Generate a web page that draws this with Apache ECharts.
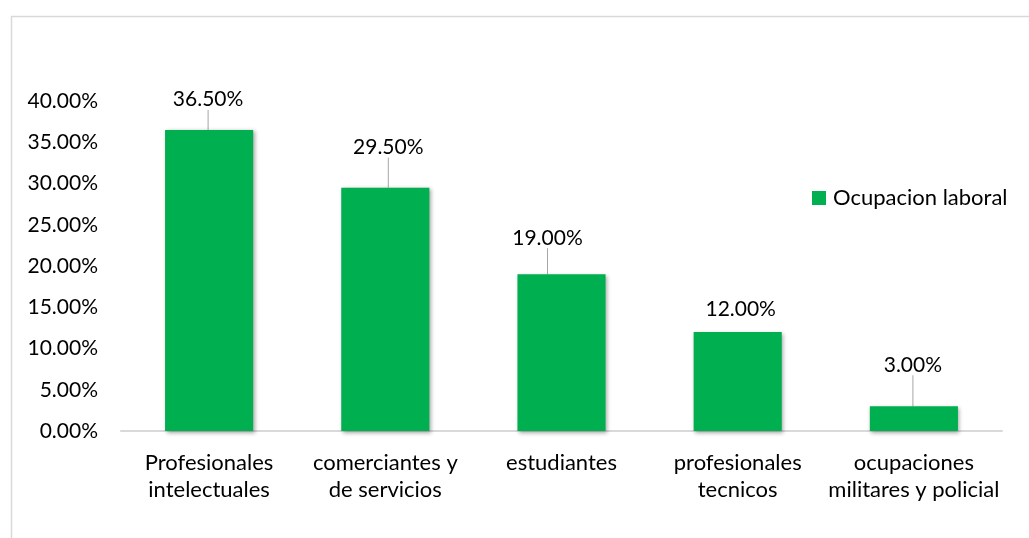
<!DOCTYPE html>
<html>
<head>
<meta charset="utf-8">
<script src="https://cdn.jsdelivr.net/npm/echarts@6/dist/echarts.min.js"></script>
<style>
  html, body { margin: 0; padding: 0; background: #ffffff; }
  #chart { width: 1029px; height: 538px; }
</style>
</head>
<body>
<div id="chart"></div>
<script>
// Distribution of respondents by occupation (percent)
const categories = [
  'Profesionales\nintelectuales',
  'comerciantes y\nde servicios',
  'estudiantes',
  'profesionales\ntecnicos',
  'ocupaciones\nmilitares y policial'
];
const seriesName = 'Ocupacion laboral';
const values = [36.5, 29.5, 19.0, 12.0, 3.0];
const yTicks = [0, 5, 10, 15, 20, 25, 30, 35, 40];

// Per-label nudges [dx, dy] from the default spot above each bar
const labelNudge = [[-1, -15], [3, -25], [-14, -21], [3, -7], [-1, -26]];

const FONT = 'Lato, "Open Sans", sans-serif';
const TEXT = '#000000';
const GREEN = '#00B050';

const chart = echarts.init(document.getElementById('chart'), null, { renderer: 'canvas' });

chart.setOption({
  animation: false,
  backgroundColor: '#ffffff',
  graphic: [{
    type: 'rect',
    left: 9, top: 14,
    shape: { width: 1100, height: 600 },
    style: { fill: 'none', stroke: '#d9d9d9', lineWidth: 1.5 },
    silent: true
  }],
  grid: { left: 121, right: 27, top: 101, bottom: 107, containLabel: false },
  legend: {
    data: [seriesName],
    left: 812, top: 187, padding: 0,
    icon: 'rect', itemWidth: 14, itemHeight: 14,
    textStyle: { fontFamily: FONT, fontSize: 22, color: TEXT, padding: [0, 0, 0, 2] }
  },
  xAxis: {
    type: 'category',
    data: categories,
    axisLine: { lineStyle: { color: '#d9d9d9', width: 2 } },
    axisTick: { show: false },
    axisLabel: {
      interval: 0, margin: 18,
      fontFamily: FONT, fontSize: 22, color: TEXT, lineHeight: 27
    }
  },
  yAxis: {
    type: 'value',
    min: yTicks[0], max: yTicks[yTicks.length - 1], interval: yTicks[1] - yTicks[0],
    splitLine: { show: false },
    axisLine: { show: false },
    axisTick: { show: false },
    axisLabel: {
      margin: 23, fontFamily: FONT, fontSize: 21, color: TEXT,
      formatter: v => v.toFixed(2) + '%'
    }
  },
  series: [{
    name: seriesName,
    type: 'bar',
    barWidth: '50%',
    data: values.map((v, i) => i === 3 ? { value: v, labelLine: { show: false } } : v),
    itemStyle: {
      color: GREEN,
      shadowColor: 'rgba(0,0,0,0.35)', shadowBlur: 4, shadowOffsetX: 1.5, shadowOffsetY: 1.5
    },
    label: {
      show: true, position: 'top', distance: 5,
      fontFamily: FONT, fontSize: 21, color: TEXT,
      formatter: p => p.value.toFixed(2) + '%'
    },
    labelLine: { show: true, lineStyle: { color: '#a6a6a6', width: 1 } },
    labelLayout: p => ({ dx: labelNudge[p.dataIndex][0], dy: labelNudge[p.dataIndex][1] })
  }]
});
</script>
</body>
</html>
